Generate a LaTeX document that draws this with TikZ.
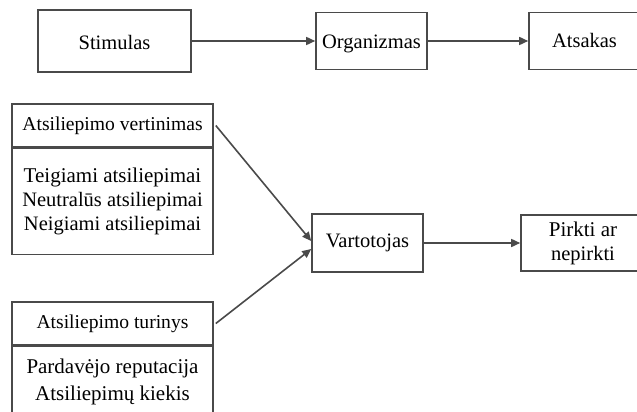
\documentclass[tikz,border=0pt]{standalone}
\usepackage{fontspec}
\setmainfont{Liberation Serif}
\newfontfamily\boxfont{Liberation Serif}
\usetikzlibrary{arrows.meta,calc}

\definecolor{edge}{HTML}{4A4A4A}

% shift a label vertically without changing its measured size
\newcommand{\nudge}[2]{\raisebox{#1}[\height][\depth]{#2}}

\tikzset{
  box/.style={draw=edge, line width=1.6pt, rectangle, inner sep=0pt, align=center,
              font=\boxfont\fontsize{20.5}{24}\selectfont, text=black},
  headbox/.style={box, font=\boxfont\fontsize{19.6}{23}\selectfont},
  bodybox/.style={box},
  link/.style={draw=edge, line width=1.6pt, -{Triangle[length=9pt,width=8pt]}}
}

\begin{document}
\begin{tikzpicture}[x=1pt, y=-1pt]
  \clip (0,0) rectangle (637,412);
  \fill[white] (0,0) rectangle (637,412);

  % top row: stimulus - organism - response
  \node[box, minimum width=153pt, minimum height=62pt] (stim) at (114.5,41) {\nudge{-1.5pt}{Stimulas}};
  \node[box, minimum width=111pt, minimum height=57pt] (org) at (371.5,41) {\nudge{-3pt}{Organizmas}};
  \node[box, minimum width=111pt, minimum height=57pt] (ats) at (584.5,41) {\nudge{1pt}{Atsakas}};

  \draw[link] (stim.east) -- (stim.east -| org.west);
  \draw[link] (org.east) -- (org.east -| ats.west);

  % review evaluation block
  \node[headbox, minimum width=201pt, minimum height=43pt] (evalhead) at (112.5,125.5) {Atsiliepimo vertinimas};
  \node[bodybox, minimum width=201pt, minimum height=106pt, anchor=north] (evalbody) at (evalhead.south)
    {\fontsize{21}{24}\selectfont Teigiami atsiliepimai\\Neutralūs atsiliepimai\\Neigiami atsiliepimai};

  % review content block (runs past the lower edge)
  \node[headbox, minimum width=201pt, minimum height=43pt] (conthead) at (112.5,323.5) {Atsiliepimo turinys};
  \node[bodybox, minimum width=201pt, minimum height=73pt, anchor=north] (contbody) at (conthead.south)
    {\nudge{1pt}{\parbox{201pt}{\centering\fontsize{21}{27.5}\selectfont Pardavėjo reputacija\\Atsiliepimų kiekis}}};

  % consumer and decision
  \node[box, minimum width=111pt, minimum height=58pt] (vart) at (367.5,243) {Vartotojas};
  \node[box, minimum width=124pt, minimum height=56pt] (buy) at (583,243)
    {\fontsize{21}{26}\selectfont Pirkti ar\\nepirkti};

  \draw[link] ([xshift=2pt]evalhead.east) -- ([yshift=2pt]vart.west);
  \draw[link] ([xshift=2pt]conthead.east) -- ([yshift=-6pt]vart.west);
  \draw[link] (vart.east) -- (vart.east -| buy.west);
\end{tikzpicture}
\end{document}
